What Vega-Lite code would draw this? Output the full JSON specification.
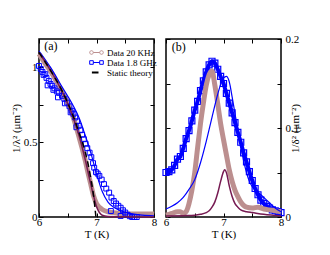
{
  "$schema": "https://vega.github.io/schema/vega-lite/v6.json",
  "padding": {"left": 9, "top": 32, "right": 0, "bottom": 0},
  "background": "white",
  "config": {
    "font": "Liberation Serif",
    "view": {"stroke": "black", "strokeWidth": 1.5},
    "axis": {"domain": false, "grid": false, "minExtent": 0, "tickColor": "black", "tickWidth": 1, "tickSize": -4, "labelColor": "black", "titleColor": "black", "labelFontSize": 11, "titleFontSize": 11, "titleFontWeight": "normal", "labelFont": "Liberation Serif", "titleFont": "Liberation Serif"},
    "concat": {"spacing": -10}
  },
  "resolve": {"scale": {"color": "independent"}, "legend": {"color": "independent"}},
  "datasets": {
    "a_20k": [
      {"T": 6.0, "v": 1.09, "series": "Data 20 KHz"}, {"T": 6.1, "v": 1.03, "series": "Data 20 KHz"}, {"T": 6.2, "v": 0.975, "series": "Data 20 KHz"},
      {"T": 6.3, "v": 0.91, "series": "Data 20 KHz"}, {"T": 6.4, "v": 0.835, "series": "Data 20 KHz"}, {"T": 6.5, "v": 0.76, "series": "Data 20 KHz"},
      {"T": 6.6, "v": 0.66, "series": "Data 20 KHz"}, {"T": 6.7, "v": 0.53, "series": "Data 20 KHz"}, {"T": 6.75, "v": 0.46, "series": "Data 20 KHz"},
      {"T": 6.8, "v": 0.385, "series": "Data 20 KHz"}, {"T": 6.85, "v": 0.3, "series": "Data 20 KHz"}, {"T": 6.9, "v": 0.22, "series": "Data 20 KHz"},
      {"T": 6.95, "v": 0.14, "series": "Data 20 KHz"}, {"T": 7.0, "v": 0.09, "series": "Data 20 KHz"}, {"T": 7.05, "v": 0.065, "series": "Data 20 KHz"},
      {"T": 7.1, "v": 0.05, "series": "Data 20 KHz"}, {"T": 7.2, "v": 0.035, "series": "Data 20 KHz"}, {"T": 7.3, "v": 0.028, "series": "Data 20 KHz"},
      {"T": 7.5, "v": 0.022, "series": "Data 20 KHz"}, {"T": 7.7, "v": 0.02, "series": "Data 20 KHz"}, {"T": 8.0, "v": 0.02, "series": "Data 20 KHz"}
    ],
    "a_18g": [
      {"T": 6.0, "v": 1.01}, {"T": 6.03, "v": 0.99}, {"T": 6.06, "v": 0.97}, {"T": 6.08, "v": 0.95}, {"T": 6.11, "v": 0.955},
      {"T": 6.13, "v": 0.93}, {"T": 6.15, "v": 0.88}, {"T": 6.17, "v": 0.91}, {"T": 6.2, "v": 0.89}, {"T": 6.23, "v": 0.877},
      {"T": 6.25, "v": 0.85}, {"T": 6.27, "v": 0.86}, {"T": 6.31, "v": 0.84}, {"T": 6.33, "v": 0.8}, {"T": 6.35, "v": 0.83},
      {"T": 6.4, "v": 0.81}, {"T": 6.44, "v": 0.79}, {"T": 6.45, "v": 0.76}, {"T": 6.49, "v": 0.765}, {"T": 6.53, "v": 0.74},
      {"T": 6.55, "v": 0.7}, {"T": 6.57, "v": 0.71}, {"T": 6.6, "v": 0.69}, {"T": 6.63, "v": 0.665}, {"T": 6.65, "v": 0.6},
      {"T": 6.66, "v": 0.64}, {"T": 6.69, "v": 0.61}, {"T": 6.72, "v": 0.58}, {"T": 6.75, "v": 0.55}, {"T": 6.78, "v": 0.52},
      {"T": 6.81, "v": 0.49}, {"T": 6.84, "v": 0.46}, {"T": 6.88, "v": 0.43}, {"T": 6.91, "v": 0.4}, {"T": 6.94, "v": 0.36},
      {"T": 6.96, "v": 0.33}, {"T": 6.99, "v": 0.3}, {"T": 7.02, "v": 0.29}, {"T": 7.05, "v": 0.275}, {"T": 7.09, "v": 0.25},
      {"T": 7.13, "v": 0.22}, {"T": 7.17, "v": 0.19}, {"T": 7.22, "v": 0.163}, {"T": 7.26, "v": 0.13}, {"T": 7.3, "v": 0.107},
      {"T": 7.34, "v": 0.09}, {"T": 7.38, "v": 0.075}, {"T": 7.42, "v": 0.062}, {"T": 7.46, "v": 0.045}, {"T": 7.5, "v": 0.03},
      {"T": 7.54, "v": 0.015}, {"T": 7.58, "v": 0.005}, {"T": 7.62, "v": 0.0}, {"T": 7.66, "v": 0.0}, {"T": 7.7, "v": 0.0},
      {"T": 7.25, "v": 0.04}, {"T": 7.42, "v": 0.007}
    ],
    "a_fitblue": [
      {"T": 6.0, "v": 1.11}, {"T": 6.2, "v": 1.0}, {"T": 6.4, "v": 0.87}, {"T": 6.6, "v": 0.74}, {"T": 6.7, "v": 0.66},
      {"T": 6.8, "v": 0.55}, {"T": 6.9, "v": 0.43}, {"T": 7.0, "v": 0.29}, {"T": 7.1, "v": 0.17}, {"T": 7.2, "v": 0.1},
      {"T": 7.3, "v": 0.065}, {"T": 7.45, "v": 0.038}, {"T": 7.6, "v": 0.022}, {"T": 7.8, "v": 0.012}, {"T": 8.0, "v": 0.008}
    ],
    "a_maroon": [
      {"T": 6.0, "v": 1.1}, {"T": 6.2, "v": 0.98}, {"T": 6.4, "v": 0.84}, {"T": 6.6, "v": 0.66}, {"T": 6.7, "v": 0.54},
      {"T": 6.8, "v": 0.39}, {"T": 6.9, "v": 0.22}, {"T": 6.95, "v": 0.14}, {"T": 7.0, "v": 0.07}, {"T": 7.05, "v": 0.03},
      {"T": 7.1, "v": 0.012}, {"T": 7.2, "v": 0.004}, {"T": 7.4, "v": 0.001}, {"T": 8.0, "v": 0.0}
    ],
    "a_static": [
      {"T": 6.0, "v": 1.1, "series": "Static theory"}, {"T": 6.2, "v": 0.98, "series": "Static theory"}, {"T": 6.4, "v": 0.845, "series": "Static theory"},
      {"T": 6.6, "v": 0.67, "series": "Static theory"}, {"T": 6.7, "v": 0.56, "series": "Static theory"}, {"T": 6.8, "v": 0.44, "series": "Static theory"},
      {"T": 6.85, "v": 0.36, "series": "Static theory"}, {"T": 6.9, "v": 0.26, "series": "Static theory"}, {"T": 6.95, "v": 0.14, "series": "Static theory"},
      {"T": 6.99, "v": 0.0, "series": "Static theory"}
    ],
    "b_18g": [
      {"T": 6.0, "v": 0.05}, {"T": 6.05, "v": 0.051}, {"T": 6.1, "v": 0.053}, {"T": 6.15, "v": 0.058}, {"T": 6.2, "v": 0.065},
      {"T": 6.25, "v": 0.068}, {"T": 6.3, "v": 0.077}, {"T": 6.35, "v": 0.088}, {"T": 6.4, "v": 0.097}, {"T": 6.45, "v": 0.108},
      {"T": 6.5, "v": 0.12}, {"T": 6.55, "v": 0.13}, {"T": 6.6, "v": 0.142}, {"T": 6.65, "v": 0.153}, {"T": 6.7, "v": 0.163},
      {"T": 6.75, "v": 0.171}, {"T": 6.8, "v": 0.175}, {"T": 6.85, "v": 0.173}, {"T": 6.9, "v": 0.166}, {"T": 6.95, "v": 0.158},
      {"T": 7.0, "v": 0.15}, {"T": 7.05, "v": 0.139}, {"T": 7.1, "v": 0.128}, {"T": 7.15, "v": 0.117}, {"T": 7.2, "v": 0.106},
      {"T": 7.25, "v": 0.095}, {"T": 7.3, "v": 0.084}, {"T": 7.35, "v": 0.072}, {"T": 7.4, "v": 0.062}, {"T": 7.45, "v": 0.051},
      {"T": 7.5, "v": 0.041}, {"T": 7.55, "v": 0.032}, {"T": 7.6, "v": 0.025}, {"T": 7.65, "v": 0.019}, {"T": 7.7, "v": 0.015},
      {"T": 7.75, "v": 0.012}, {"T": 7.8, "v": 0.01}, {"T": 7.85, "v": 0.008}, {"T": 7.9, "v": 0.007}, {"T": 7.95, "v": 0.006},
      {"T": 8.0, "v": 0.005}
    ],
    "b_20k": [
      {"T": 6.0, "v": 0.002}, {"T": 6.1, "v": 0.004}, {"T": 6.2, "v": 0.006}, {"T": 6.25, "v": 0.006}, {"T": 6.3, "v": 0.004},
      {"T": 6.35, "v": 0.006}, {"T": 6.4, "v": 0.015}, {"T": 6.45, "v": 0.03}, {"T": 6.5, "v": 0.05}, {"T": 6.55, "v": 0.078},
      {"T": 6.6, "v": 0.105}, {"T": 6.65, "v": 0.128}, {"T": 6.7, "v": 0.148}, {"T": 6.75, "v": 0.16}, {"T": 6.8, "v": 0.164},
      {"T": 6.85, "v": 0.148}, {"T": 6.9, "v": 0.127}, {"T": 6.95, "v": 0.105}, {"T": 7.0, "v": 0.087}, {"T": 7.05, "v": 0.07},
      {"T": 7.1, "v": 0.053}, {"T": 7.15, "v": 0.04}, {"T": 7.2, "v": 0.03}, {"T": 7.25, "v": 0.023}, {"T": 7.3, "v": 0.017},
      {"T": 7.35, "v": 0.013}, {"T": 7.4, "v": 0.011}, {"T": 7.5, "v": 0.01}, {"T": 7.6, "v": 0.011}, {"T": 7.7, "v": 0.009},
      {"T": 7.8, "v": 0.008}, {"T": 7.9, "v": 0.007}, {"T": 8.0, "v": 0.006}
    ],
    "b_fitblue": [
      {"T": 6.0, "v": 0.009}, {"T": 6.1, "v": 0.012}, {"T": 6.2, "v": 0.016}, {"T": 6.3, "v": 0.022}, {"T": 6.4, "v": 0.031},
      {"T": 6.5, "v": 0.042}, {"T": 6.6, "v": 0.061}, {"T": 6.7, "v": 0.085}, {"T": 6.8, "v": 0.112}, {"T": 6.9, "v": 0.138},
      {"T": 6.95, "v": 0.149}, {"T": 7.0, "v": 0.156}, {"T": 7.05, "v": 0.158}, {"T": 7.1, "v": 0.152}, {"T": 7.15, "v": 0.135},
      {"T": 7.2, "v": 0.116}, {"T": 7.25, "v": 0.098}, {"T": 7.3, "v": 0.08}, {"T": 7.35, "v": 0.063}, {"T": 7.4, "v": 0.05},
      {"T": 7.45, "v": 0.04}, {"T": 7.5, "v": 0.034}, {"T": 7.6, "v": 0.028}, {"T": 7.7, "v": 0.022}, {"T": 7.8, "v": 0.016},
      {"T": 7.9, "v": 0.01}, {"T": 8.0, "v": 0.006}
    ],
    "b_maroon": [
      {"T": 6.0, "v": 0.001}, {"T": 6.3, "v": 0.0015}, {"T": 6.5, "v": 0.002}, {"T": 6.6, "v": 0.003}, {"T": 6.7, "v": 0.005},
      {"T": 6.75, "v": 0.007}, {"T": 6.8, "v": 0.011}, {"T": 6.85, "v": 0.017}, {"T": 6.9, "v": 0.027}, {"T": 6.95, "v": 0.04},
      {"T": 7.0, "v": 0.051}, {"T": 7.02, "v": 0.053}, {"T": 7.05, "v": 0.05}, {"T": 7.1, "v": 0.035}, {"T": 7.15, "v": 0.023},
      {"T": 7.2, "v": 0.015}, {"T": 7.25, "v": 0.011}, {"T": 7.3, "v": 0.008}, {"T": 7.4, "v": 0.006}, {"T": 7.5, "v": 0.005},
      {"T": 7.7, "v": 0.003}, {"T": 8.0, "v": 0.001}
    ]
  },
  "hconcat": [
    {
      "width": 115,
      "height": 178,
      "resolve": {"axis": {"x": "independent", "y": "independent"}},
      "layer": [
        {
          "data": {"name": "a_20k"},
          "mark": {"type": "line", "strokeWidth": 5, "interpolate": "monotone"},
          "encoding": {
            "x": {"field": "T", "type": "quantitative", "scale": {"domain": [6, 8], "nice": false},
              "axis": {"orient": "bottom", "title": "T (K)", "values": [6, 6.5, 7, 7.5, 8], "labelExpr": "datum.value == 6.5 || datum.value == 7.5 ? '' : datum.label", "format": "~g", "labelPadding": 3, "titlePadding": 1, "labelFlush": false}},
            "y": {"field": "v", "type": "quantitative", "scale": {"domain": [0, 1.19], "nice": false, "zero": false},
              "axis": {"orient": "left", "title": "1/λ² (μm⁻²)", "values": [0, 0.25, 0.5, 0.75, 1], "labelExpr": "datum.value == 0.25 || datum.value == 0.75 ? '' : datum.label", "format": "~g", "labelPadding": 6, "titlePadding": 2, "labelFlush": false}},
            "color": {"field": "series", "type": "nominal",
              "scale": {"domain": ["Data 20 KHz", "Data 1.8 GHz", "Static theory"], "range": ["#bc8f8f", "#0000ff", "#000000"]},
              "legend": {
                "title": null, "orient": "none", "legendX": 53, "legendY": 9, "padding": 0,
                "labelFont": "Liberation Serif", "labelFontSize": 9, "labelColor": "black",
                "symbolSize": 64, "rowPadding": 0, "labelOffset": 6, "symbolStrokeWidth": 1,
                "encode": {"symbols": {"update": {
                  "shape": {"signal": "datum.value === 'Data 20 KHz' ? 'M-1.7,0A0.45,0.45 0 1,1 -0.8,0A0.45,0.45 0 1,1 -1.7,0M-0.8,0L0.8,0M0.8,0A0.45,0.45 0 1,1 1.7,0A0.45,0.45 0 1,1 0.8,0' : datum.value === 'Data 1.8 GHz' ? 'M-1.7,-0.45H-0.8V0.45H-1.7ZM-0.8,0H0.8M0.8,-0.45H1.7V0.45H0.8Z' : 'M-1.15,0H0.5'"},
                  "fill": {"value": "transparent"},
                  "strokeWidth": {"signal": "datum.value === 'Static theory' ? 2 : 1"},
                  "strokeDash": {"value": []},
                  "opacity": {"value": 1}
                }}}
              }}
          }
        },
        {
          "data": {"name": "a_18g"},
          "transform": [{"calculate": "'Data 1.8 GHz'", "as": "series"}],
          "mark": {"type": "point", "shape": "square", "filled": false, "size": 24, "strokeWidth": 1, "opacity": 1},
          "encoding": {
            "x": {"field": "T", "type": "quantitative", "axis": {"orient": "top", "title": null, "labels": false, "values": [6, 6.5, 7, 7.5, 8]}},
            "y": {"field": "v", "type": "quantitative", "axis": {"orient": "right", "title": null, "labels": false, "values": [0, 0.25, 0.5, 0.75, 1]}},
            "color": {"field": "series", "type": "nominal"}
          }
        },
        {
          "data": {"name": "a_fitblue"},
          "mark": {"type": "line", "color": "#0000ff", "strokeWidth": 1.2, "interpolate": "monotone"},
          "encoding": {"x": {"field": "T", "type": "quantitative", "axis": null}, "y": {"field": "v", "type": "quantitative", "axis": null}}
        },
        {
          "data": {"name": "a_maroon"},
          "mark": {"type": "line", "color": "#761a52", "strokeWidth": 1.5, "interpolate": "monotone"},
          "encoding": {"x": {"field": "T", "type": "quantitative", "axis": null}, "y": {"field": "v", "type": "quantitative", "axis": null}}
        },
        {
          "data": {"name": "a_static"},
          "mark": {"type": "line", "strokeWidth": 1.5, "strokeDash": [6, 4], "interpolate": "monotone"},
          "encoding": {"x": {"field": "T", "type": "quantitative", "axis": null}, "y": {"field": "v", "type": "quantitative", "axis": null}, "color": {"field": "series", "type": "nominal"}}
        },
        {
          "data": {"values": [{}]},
          "mark": {"type": "text", "text": "(a)", "align": "left", "baseline": "middle", "fontSize": 12, "font": "Liberation Serif", "color": "black"},
          "encoding": {"x": {"datum": 6.09, "type": "quantitative", "axis": null}, "y": {"datum": 1.14, "type": "quantitative", "axis": null}}
        }
      ]
    },
    {
      "width": 115,
      "height": 178,
      "resolve": {"axis": {"x": "independent", "y": "independent"}},
      "layer": [
        {
          "data": {"name": "b_18g"},
          "mark": {"type": "line", "color": "#0000ff", "strokeWidth": 4, "interpolate": "monotone"},
          "encoding": {
            "x": {"field": "T", "type": "quantitative", "scale": {"domain": [6, 8], "nice": false},
              "axis": {"orient": "bottom", "title": "T (K)", "values": [6, 6.5, 7, 7.5, 8], "labelExpr": "datum.value == 6.5 || datum.value == 7.5 ? '' : datum.label", "format": "~g", "labelPadding": 3, "titlePadding": 1, "labelFlush": false}},
            "y": {"field": "v", "type": "quantitative", "scale": {"domain": [0, 0.2], "nice": false},
              "axis": {"orient": "right", "title": "1/δ² (μm⁻²)", "titleAngle": -90, "values": [0, 0.05, 0.1, 0.15, 0.2], "labelExpr": "datum.value == 0.05 || datum.value == 0.15 ? '' : datum.label", "format": "~g", "labelPadding": 8, "titlePadding": 2, "labelFlush": false}}
          }
        },
        {
          "data": {"name": "b_18g"},
          "mark": {"type": "point", "shape": "square", "filled": false, "size": 36, "strokeWidth": 1.2, "color": "#0000ff", "opacity": 1},
          "encoding": {
            "x": {"field": "T", "type": "quantitative", "axis": {"orient": "top", "title": null, "labels": false, "values": [6, 6.5, 7, 7.5, 8]}},
            "y": {"field": "v", "type": "quantitative", "axis": {"orient": "left", "title": null, "labels": false, "values": [0, 0.05, 0.1, 0.15, 0.2]}}
          }
        },
        {
          "data": {"name": "b_20k"},
          "mark": {"type": "line", "color": "#bc8f8f", "strokeWidth": 5, "interpolate": "monotone"},
          "encoding": {"x": {"field": "T", "type": "quantitative", "axis": null}, "y": {"field": "v", "type": "quantitative", "axis": null}}
        },
        {
          "data": {"name": "b_fitblue"},
          "mark": {"type": "line", "color": "#0000ff", "strokeWidth": 1.2, "interpolate": "monotone"},
          "encoding": {"x": {"field": "T", "type": "quantitative", "axis": null}, "y": {"field": "v", "type": "quantitative", "axis": null}}
        },
        {
          "data": {"name": "b_maroon"},
          "mark": {"type": "line", "color": "#761a52", "strokeWidth": 1.5, "interpolate": "monotone"},
          "encoding": {"x": {"field": "T", "type": "quantitative", "axis": null}, "y": {"field": "v", "type": "quantitative", "axis": null}}
        },
        {
          "data": {"values": [{}]},
          "mark": {"type": "text", "text": "(b)", "align": "left", "baseline": "middle", "fontSize": 12, "font": "Liberation Serif", "color": "black"},
          "encoding": {"x": {"datum": 6.1, "type": "quantitative", "axis": null}, "y": {"datum": 0.191, "type": "quantitative", "axis": null}}
        }
      ]
    }
  ]
}
